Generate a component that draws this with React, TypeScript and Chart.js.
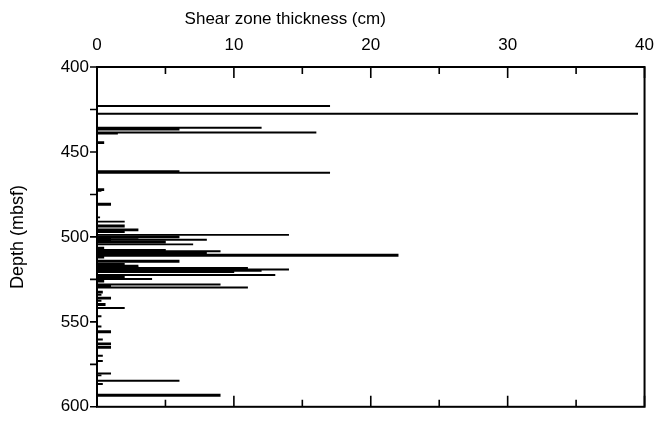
import React, { useEffect, useRef } from "react";
import { Chart, registerables } from "chart.js";

Chart.register(...registerables);

// Thin shear zones: depth (mbsf) and thickness (cm)
const thinDepths = [423, 427.5, 435.8, 438.5, 439.2, 462.3, 472.9, 488.5, 491, 498.8, 501.7, 504.4, 508.5, 516, 519.2, 520, 520.7, 522.4, 524.8, 528, 529.8, 534, 537.6, 541.9, 546.7, 552.7, 560.4, 570, 573, 580.4, 581.5, 584.7, 586.6];
const thinValues = [17, 39.5, 12, 16, 1.5, 17, 0.3, 0.2, 2, 14, 8, 7, 9, 2, 14, 12, 10, 13, 4, 9, 11, 0.3, 0.3, 2, 0.3, 0.3, 0.4, 0.4, 0.4, 1, 0.3, 6, 0.4];

// Thick shear zones (drawn heavier)
const thickDepths = [436.6, 444.5, 461.6, 472.2, 480.8, 493.6, 495.9, 496.9, 500, 500.3, 501.2, 502.4, 503, 506.6, 508, 509.5, 510.8, 511.8, 514.3, 517.2, 518.3, 518.6, 519.6, 523.3, 526, 529, 532.5, 536, 539.8, 555.8, 563, 565, 593.2];
const thickValues = [6, 0.5, 6, 0.5, 1, 2, 3, 2, 6, 3, 1, 1, 5, 0.5, 5, 8, 22, 0.5, 6, 3, 3, 11, 3, 2, 0.5, 1, 0.4, 1, 0.6, 1, 1, 1, 9];

const xTicks = [0, 10, 20, 30, 40];
const yTicks = [400, 450, 500, 550, 600];
const xTitle = "Shear zone thickness (cm)";
const yTitle = "Depth (mbsf)";

const FONT = "'Liberation Sans', Arial, Helvetica, sans-serif";

const framePlugin = {
  id: "frame",
  afterDatasetsDraw(chart: any) {
    const { ctx, chartArea } = chart;
    const xs = chart.scales.x;
    const ys = chart.scales.y;
    const { left, right, top, bottom } = chartArea;
    ctx.save();
    ctx.strokeStyle = "#000";
    ctx.lineWidth = 2;
    ctx.strokeRect(left, top, right - left, bottom - top);
    ctx.lineWidth = 1.6;
    ctx.beginPath();
    for (let v = 0; v <= 40; v += 5) {
      const px = xs.getPixelForValue(v);
      const len = v % 10 === 0 ? 11 : 7;
      ctx.moveTo(px, top);
      ctx.lineTo(px, top + len);
      ctx.moveTo(px, bottom);
      ctx.lineTo(px, bottom - len);
    }
    for (let d = 400; d <= 600; d += 25) {
      const py = ys.getPixelForValue(d);
      ctx.moveTo(left, py);
      ctx.lineTo(left - 7, py);
    }
    ctx.stroke();
    // top axis title (offset left of centre as in the original)
    ctx.fillStyle = "#000";
    ctx.font = `17px ${FONT}`;
    ctx.textAlign = "center";
    ctx.textBaseline = "middle";
    ctx.fillText(xTitle, xs.getPixelForValue(13.75), 19);
    ctx.restore();
  },
};

export default function App() {
  const ref = useRef<HTMLCanvasElement | null>(null);
  useEffect(() => {
    document.body.style.margin = "0";
    const canvas = ref.current!;
    const thin = thinDepths.map((d, i) => ({ x: thinValues[i], y: d }));
    const thick = thickDepths.map((d, i) => ({ x: thickValues[i], y: d }));
    const chart = new Chart(canvas, {
      type: "bar",
      data: {
        datasets: [
          {
            data: thin as any,
            backgroundColor: "#000",
            borderWidth: 0,
            barThickness: 1.3,
            grouped: false,
          } as any,
          {
            data: thick as any,
            backgroundColor: "#000",
            borderWidth: 0,
            barThickness: 2.2,
            grouped: false,
          } as any,
        ],
      },
      options: {
        indexAxis: "y",
        animation: false,
        responsive: false,
        events: [],
        layout: { padding: { left: 0, top: 0, right: 13, bottom: 14 } },
        plugins: { legend: { display: false }, tooltip: { enabled: false } },
        scales: {
          x: {
            type: "linear",
            position: "top",
            min: 0,
            max: 40,
            grid: { display: false, drawTicks: false },
            border: { display: false },
            afterBuildTicks: (s: any) => {
              s.ticks = xTicks.map((v) => ({ value: v }));
            },
            afterFit: (s: any) => {
              s.height = 67;
            },
            ticks: {
              color: "#000",
              font: { family: FONT, size: 17 },
              padding: 11,
              maxRotation: 0,
            },
            title: { display: false },
          },
          y: {
            type: "linear",
            reverse: true,
            min: 400,
            max: 600,
            offset: false,
            grid: { display: false, drawTicks: false },
            border: { display: false },
            afterBuildTicks: (s: any) => {
              s.ticks = yTicks.map((v) => ({ value: v }));
            },
            afterFit: (s: any) => {
              s.width = 97;
            },
            ticks: {
              color: "#000",
              font: { family: FONT, size: 17 },
              padding: 8,
            },
            title: {
              display: true,
              text: yTitle,
              color: "#000",
              font: { family: FONT, size: 18 },
              padding: { top: 7, bottom: 0 },
            },
          },
        },
      } as any,
      plugins: [framePlugin],
    });
    return () => chart.destroy();
  }, []);
  return (
    <div style={{ position: "fixed", left: 0, top: 0, width: 665, height: 425, background: "#fff" }}>
      <canvas ref={ref} width={665} height={425} />
    </div>
  );
}
